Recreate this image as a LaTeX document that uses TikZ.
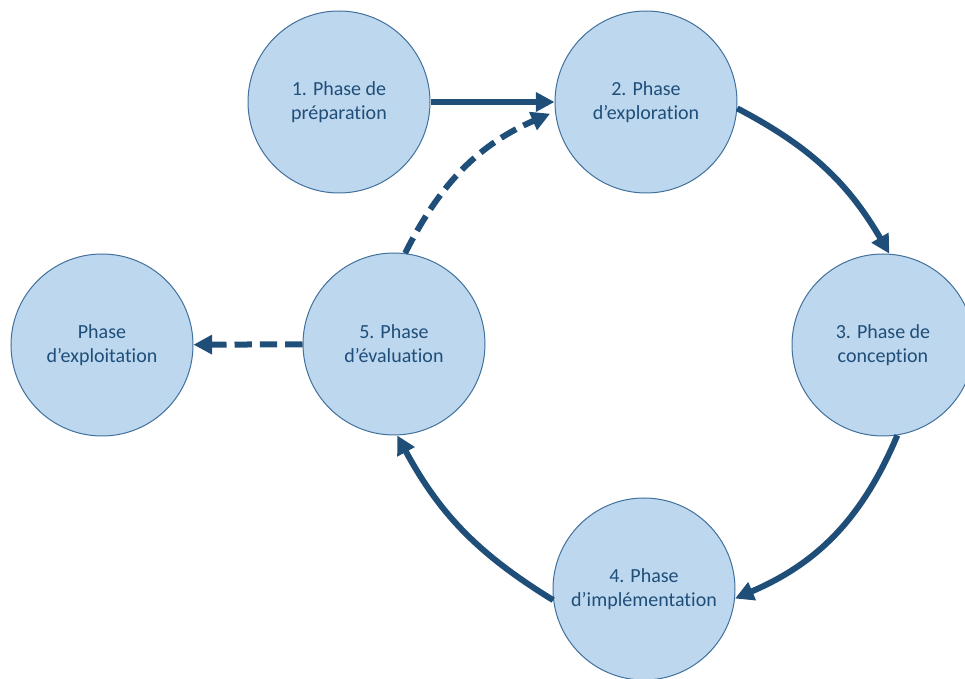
\documentclass[tikz,border=0pt]{standalone}
\usepackage{fontspec}
\setmainfont{Carlito}[Ligatures=NoCommon]
\usetikzlibrary{arrows.meta}
\definecolor{cfill}{HTML}{BDD7EE}
\definecolor{cborder}{HTML}{41719C}
\definecolor{carrow}{HTML}{1F4E79}
\definecolor{ctext}{HTML}{1F4E79}
\begin{document}
\begin{tikzpicture}[x=0.75pt,y=0.75pt,
  phase/.style={circle, draw=cborder, line width=0.75pt, fill=cfill,
    minimum size=136.5pt, inner sep=0pt, align=center, text=ctext,
    font=\fontsize{15}{18}\selectfont},
  flow/.style={draw=carrow, line width=4.5pt, -{Triangle[length=14pt,width=14pt]}},
  dflow/.style={flow, dash pattern=on 13pt off 6pt}]
\useasboundingbox (0,0) rectangle (965,679);
\clip (0,0) rectangle (965,679);
\node[phase] (n1) at (339,577) {1. Phase de\\préparation};
\node[phase] (n2) at (646,577) {2. Phase\\d’exploration};
\node[phase] (n3) at (883,334) {3. Phase de\\conception};
\node[phase] (n4) at (644,90) {4. Phase\\d’implémentation};
\node[phase] (n5) at (394,335) {5. Phase\\d’évaluation};
\node[phase] (n6) at (102,334) {Phase\\d’exploitation};
\draw[flow] (n1) -- (n2);
\draw[flow] (n2.-4) to[bend left=16] (n3.86);
\draw[flow] (n3.-81) to[bend left=22] (n4.-6);
\draw[flow] (n4.187) to[bend left=15] (n5.-88);
\draw[dflow, shorten >=4pt] (n5.83) to[bend left=20] (n2.186);
\draw[dflow] (n5) -- (n6);
\end{tikzpicture}
\end{document}
